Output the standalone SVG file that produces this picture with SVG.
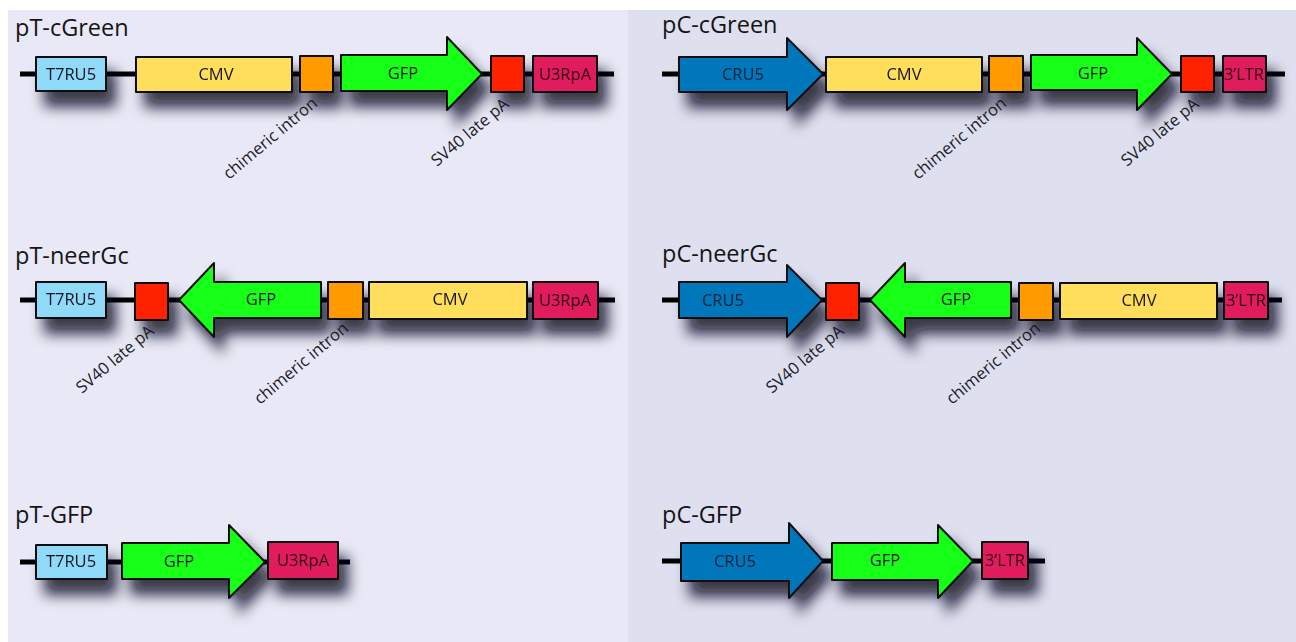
<svg xmlns="http://www.w3.org/2000/svg" width="1296" height="642" viewBox="0 0 1296 642">
  <defs>
    <filter id="drop" filterUnits="userSpaceOnUse" x="0" y="0" width="1296" height="642">
      <feGaussianBlur in="SourceAlpha" stdDeviation="7"/>
      <feOffset dx="9" dy="15" result="blur"/>
      <feFlood flood-color="#0a0a1e" flood-opacity="0.8"/>
      <feComposite in2="blur" operator="in" result="shadow"/>
      <feMerge>
        <feMergeNode in="shadow"/>
        <feMergeNode in="SourceGraphic"/>
      </feMerge>
    </filter>
  </defs>
  <style>
    .part { stroke: #111; stroke-width: 2; stroke-linejoin: round; }
    .feat { filter: url(#drop); }
    .t7 { fill: #8fd9f9; }
    .cmv { fill: #fede5a; }
    .intron { fill: #ff9a00; }
    .gfp { fill: #12ff12; }
    .pa { fill: #ff2200; }
    .u3 { fill: #e11a5b; }
    .cru { fill: #0077bb; }
    .lbl { font-family: "Open Sans", "Noto Sans", sans-serif; font-size: 16.5px; fill: #15151f; text-anchor: middle; }
    .lbl.dk { fill: #33061a; }
    .lbl.nv { fill: #0a2038; }
    .title { font-family: "Open Sans", "Noto Sans", sans-serif; font-size: 23.5px; fill: #151515; }
    .note { font-family: "Open Sans", "Noto Sans", sans-serif; font-size: 16.5px; fill: #1a1a26; }
    .bb { stroke: #000; stroke-width: 5; fill: none; }
  </style>

  <!-- backgrounds -->
  <rect x="0" y="0" width="1296" height="642" fill="#ffffff"/>
  <rect x="8" y="10" width="620" height="632" fill="#e8e8f6"/>
  <rect x="628" y="10" width="668" height="632" fill="#dedfef"/>

  <!-- titles -->
  <g id="titles">
    <text class="title" x="15" y="36">pT-cGreen</text>
    <text class="title" x="662" y="33">pC-cGreen</text>
    <text class="title" x="15" y="264">pT-neerGc</text>
    <text class="title" x="662" y="262">pC-neerGc</text>
    <text class="title" x="15" y="523">pT-GFP</text>
    <text class="title" x="662" y="523">pC-GFP</text>
  </g>

  <!-- backbones -->
  <g id="connectors">
    <line class="bb" x1="20" y1="74" x2="614" y2="74"/>
    <line class="bb" x1="662" y1="74" x2="1285" y2="74"/>
    <line class="bb" x1="20" y1="300" x2="615" y2="300"/>
    <line class="bb" x1="662" y1="300" x2="1282" y2="300"/>
    <line class="bb" x1="20" y1="562" x2="350" y2="562"/>
    <line class="bb" x1="662" y1="561" x2="1045" y2="561"/>
  </g>

  <!-- pT-cGreen -->
  <g id="ptcg-t7" class="feat"><rect class="part t7" x="36" y="57" width="70" height="34"/><text class="lbl" x="71" y="80">T7RU5</text></g>
  <g id="ptcg-cmv" class="feat"><rect class="part cmv" x="136" y="57" width="156" height="35"/><text class="lbl" x="216" y="80">CMV</text></g>
  <g id="ptcg-intron" class="feat"><rect class="part intron" x="300" y="56" width="33" height="36"/></g>
  <g id="ptcg-gfp" class="feat"><polygon class="part gfp" points="341,55 447,55 447,37 482,74 447,110 447,91 341,91"/><text class="lbl" x="403" y="79">GFP</text></g>
  <g id="ptcg-pa" class="feat"><rect class="part pa" x="491" y="56" width="33" height="36"/></g>
  <g id="ptcg-u3" class="feat"><rect class="part u3" x="533" y="56" width="64" height="36"/><text class="lbl dk" x="565" y="80">U3RpA</text></g>
  <text class="note" transform="translate(229,180) rotate(-40)">chimeric intron</text>
  <text class="note" transform="translate(437,167) rotate(-40)">SV40 late pA</text>

  <!-- pC-cGreen -->
  <g id="pccg-cru" class="feat"><polygon class="part cru" points="679,57 787,57 787,38 823,74 787,110 787,92 679,92"/><text class="lbl nv" x="743" y="80">CRU5</text></g>
  <g id="pccg-cmv" class="feat"><rect class="part cmv" x="826" y="57" width="156" height="35"/><text class="lbl" x="904" y="80">CMV</text></g>
  <g id="pccg-intron" class="feat"><rect class="part intron" x="989" y="56" width="34" height="36"/></g>
  <g id="pccg-gfp" class="feat"><polygon class="part gfp" points="1031,55 1137,55 1137,38 1172,74 1137,110 1137,90 1031,90"/><text class="lbl" x="1093" y="79">GFP</text></g>
  <g id="pccg-pa" class="feat"><rect class="part pa" x="1181" y="56" width="33" height="36"/></g>
  <g id="pccg-ltr" class="feat"><rect class="part u3" x="1223" y="56" width="43" height="36"/><text class="lbl dk" x="1244" y="80">3’LTR</text></g>
  <text class="note" transform="translate(918,180) rotate(-40)">chimeric intron</text>
  <text class="note" transform="translate(1127,167) rotate(-40)">SV40 late pA</text>

  <!-- pT-neerGc -->
  <g id="ptng-t7" class="feat"><rect class="part t7" x="36" y="282" width="70" height="36"/><text class="lbl" x="71" y="305">T7RU5</text></g>
  <g id="ptng-pa" class="feat"><rect class="part pa" x="135" y="283" width="33" height="37"/></g>
  <g id="ptng-gfp" class="feat"><polygon class="part gfp" points="321,282 214,282 214,263 179,300 214,337 214,318 321,318"/><text class="lbl" x="261" y="305">GFP</text></g>
  <g id="ptng-intron" class="feat"><rect class="part intron" x="328" y="282" width="35" height="37"/></g>
  <g id="ptng-cmv" class="feat"><rect class="part cmv" x="369" y="282" width="158" height="37"/><text class="lbl" x="450" y="305">CMV</text></g>
  <g id="ptng-u3" class="feat"><rect class="part u3" x="533" y="282" width="65" height="37"/><text class="lbl dk" x="565" y="306">U3RpA</text></g>
  <text class="note" transform="translate(82,394) rotate(-40)">SV40 late pA</text>
  <text class="note" transform="translate(260,405) rotate(-40)">chimeric intron</text>

  <!-- pC-neerGc -->
  <g id="pcng-cru" class="feat"><polygon class="part cru" points="679,282 787,282 787,265 822,300 787,337 787,318 679,318"/><text class="lbl nv" x="723" y="306">CRU5</text></g>
  <g id="pcng-pa" class="feat"><rect class="part pa" x="826" y="283" width="33" height="37"/></g>
  <g id="pcng-gfp" class="feat"><polygon class="part gfp" points="1011,282 905,282 905,263 870,300 905,337 905,318 1011,318"/><text class="lbl" x="956" y="305">GFP</text></g>
  <g id="pcng-intron" class="feat"><rect class="part intron" x="1019" y="283" width="34" height="37"/></g>
  <g id="pcng-cmv" class="feat"><rect class="part cmv" x="1060" y="283" width="157" height="36"/><text class="lbl" x="1139" y="306">CMV</text></g>
  <g id="pcng-ltr" class="feat"><rect class="part u3" x="1224" y="282" width="44" height="37"/><text class="lbl dk" x="1246" y="306">3’LTR</text></g>
  <text class="note" transform="translate(772,394) rotate(-40)">SV40 late pA</text>
  <text class="note" transform="translate(952,405) rotate(-40)">chimeric intron</text>

  <!-- pT-GFP -->
  <g id="ptgfp-t7" class="feat"><rect class="part t7" x="36" y="545" width="71" height="34"/><text class="lbl" x="71" y="567">T7RU5</text></g>
  <g id="ptgfp-gfp" class="feat"><polygon class="part gfp" points="122,543 229,543 229,525 265,562 229,598 229,579 122,579"/><text class="lbl" x="179" y="567">GFP</text></g>
  <g id="ptgfp-u3" class="feat"><rect class="part u3" x="268" y="542" width="70" height="37"/><text class="lbl dk" x="303" y="566">U3RpA</text></g>

  <!-- pC-GFP -->
  <g id="pcgfp-cru" class="feat"><polygon class="part cru" points="681,543 789,543 789,523 823,561 789,598 789,581 681,581"/><text class="lbl nv" x="735" y="567">CRU5</text></g>
  <g id="pcgfp-gfp" class="feat"><polygon class="part gfp" points="832,543 938,543 938,525 973,561 938,598 938,580 832,580"/><text class="lbl" x="885" y="566">GFP</text></g>
  <g id="pcgfp-ltr" class="feat"><rect class="part u3" x="982" y="542" width="46" height="37"/><text class="lbl dk" x="1005" y="566">3’LTR</text></g>
</svg>
